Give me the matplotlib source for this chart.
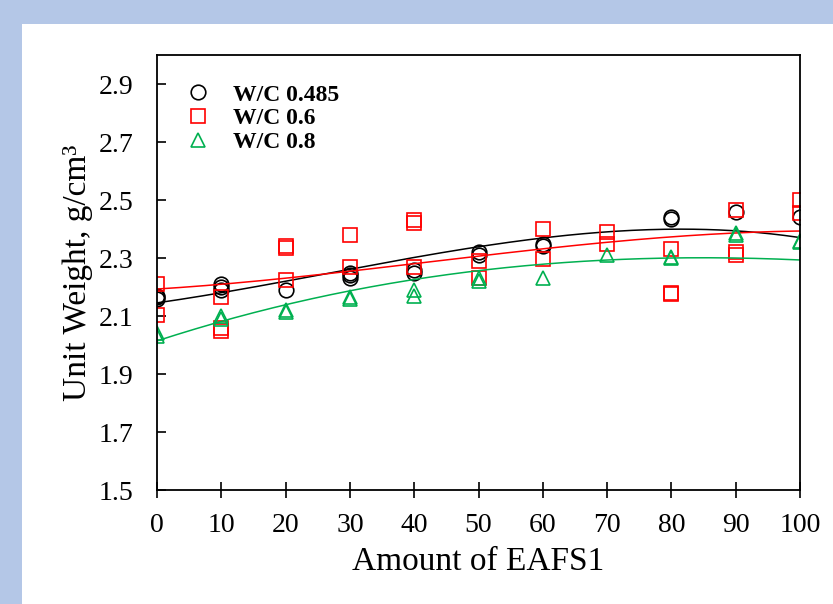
import numpy as np
import matplotlib
matplotlib.use("Agg")
import matplotlib.pyplot as plt
from matplotlib.patches import Rectangle

# values (replicates per mix)
x_485 = [0, 0, 0, 10, 10, 10, 20, 30, 30, 30, 40, 40, 50, 50, 60, 60, 80, 80, 90, 100]
y_485 = [2.16, 2.17, 2.165, 2.20, 2.21, 2.19, 2.19, 2.23, 2.25, 2.24, 2.25, 2.26,
         2.31, 2.32, 2.34, 2.35, 2.44, 2.435, 2.46, 2.44]

x_06 = [0, 0, 10, 10, 10, 20, 20, 20, 30, 30, 40, 40, 40, 50, 50, 60, 60, 70, 70,
        80, 80, 80, 90, 90, 90, 100, 100]
y_06 = [2.21, 2.105, 2.165, 2.06, 2.05, 2.34, 2.335, 2.225, 2.38, 2.27, 2.42, 2.43, 2.27,
        2.29, 2.23, 2.40, 2.295, 2.39, 2.35, 2.33, 2.18, 2.175, 2.465, 2.32, 2.31, 2.50, 2.455]

x_08 = [0, 0, 10, 10, 20, 20, 30, 30, 40, 40, 50, 50, 60, 70, 80, 80, 90, 90, 100, 100]
y_08 = [2.04, 2.03, 2.10, 2.09, 2.115, 2.12, 2.16, 2.165, 2.17, 2.19, 2.22, 2.23,
        2.23, 2.31, 2.30, 2.305, 2.38, 2.385, 2.36, 2.355]

# trend lines
x_trend = [0, 25.3, 51.8, 78.2, 100]
trend_485 = [2.145, 2.243, 2.343, 2.40, 2.37]
trend_06 = [2.193, 2.243, 2.311, 2.37, 2.393]
trend_08 = [2.014, 2.166, 2.26, 2.30, 2.293]

labels = ["W/C 0.485", "W/C 0.6", "W/C 0.8"]
colors = ["black", "#ff0000", "#00b050"]
markers = ["o", "s", "^"]

plt.rcParams["font.family"] = "Liberation Serif"

fig = plt.figure(figsize=(8.33, 6.04), dpi=100, facecolor="#b4c7e7")
fig.patches.append(Rectangle((22 / 833, 0), 1, 1 - 24 / 604, transform=fig.transFigure,
                             facecolor="white", edgecolor="none", zorder=-10))
ax = fig.add_axes([157 / 833, 1 - 490 / 604, 643 / 833, 435 / 604])

xs = np.linspace(0, 100, 200)
series = zip([x_485, x_06, x_08], [y_485, y_06, y_08], [trend_485, trend_06, trend_08],
             labels, colors, markers)
for xv, yv, tv, lab, c, m in series:
    ax.plot(xv, yv, linestyle="none", marker=m, ms=10.5, mfc="none", mec=c, mew=1.2, label=lab)
    coef = np.polyfit(x_trend, tv, 3)
    ax.plot(xs, np.polyval(coef, xs), color=c, lw=1.1)

ax.set_xlim(0, 100)
ax.set_ylim(1.5, 3.0)
ax.set_xticks(range(0, 101, 10))
ax.set_yticks(np.arange(1.5, 2.95, 0.2))
ax.set_yticklabels(["%.1f" % v for v in np.arange(1.5, 2.95, 0.2)])
ax.tick_params(axis="x", direction="inout", length=11, width=1.2, labelsize=20, pad=11)
ax.tick_params(axis="y", direction="in", length=6.5, width=1.2, labelsize=20, pad=17)
for s in ax.spines.values():
    s.set_linewidth(1.3)

ax.set_xlabel("Amount of EAFS1", fontsize=24, labelpad=6)
ax.set_ylabel("Unit Weight, g/cm³", fontsize=24, labelpad=4)

handles = ax.get_legend_handles_labels()
ax.legend(handles[0], handles[1], loc="upper left", bbox_to_anchor=(0.03, 0.955), frameon=False,
          prop={"weight": "bold", "size": 17}, handlelength=1, handletextpad=1.0,
          labelspacing=0.1, borderaxespad=0)

fig.savefig("out.png", dpi=100, facecolor=fig.get_facecolor())
